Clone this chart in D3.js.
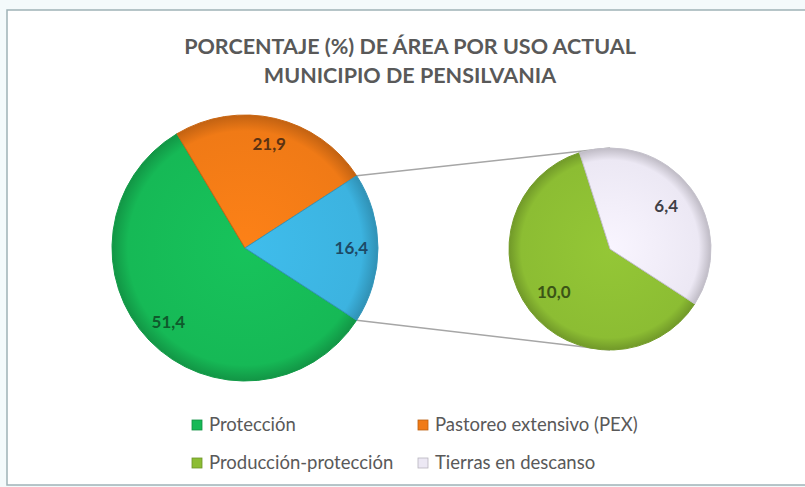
<!DOCTYPE html>
<html>
<head>
<meta charset="utf-8">
<script src="https://cdn.jsdelivr.net/npm/d3@7"></script>
<style>
    body { margin: 0; background: #f4fafb; }
    svg { display: block; }
    text { font-family: Lato, "Open Sans", sans-serif; }
</style>
</head>
<body>
<script>
// datos
var titleLines = ['PORCENTAJE (%) DE ÁREA POR USO ACTUAL', 'MUNICIPIO DE PENSILVANIA'];
var mainCats = ['Protección', 'Pastoreo extensivo (PEX)', 'Otros'];
var mainValues = [51.4, 21.9, 16.4];
var subCats = ['Producción-protección', 'Tierras en descanso'];
var subValues = [10.0, 6.4];
var legendNames = ['Protección', 'Pastoreo extensivo (PEX)', 'Producción-protección', 'Tierras en descanso'];

// colores
var colors = {
    'Protección': '#16b956',
    'Pastoreo extensivo (PEX)': '#f07a16',
    'Otros': '#3cb3e0',
    'Producción-protección': '#8cbd33',
    'Tierras en descanso': '#ece8f4'
};
var labelColors = {
    'Protección': '#0f5a2c',
    'Pastoreo extensivo (PEX)': '#5b3212',
    'Otros': '#1d4a66',
    'Producción-protección': '#3b5416',
    'Tierras en descanso': '#3f3f46'
};

var width = 805, height = 487;
var mainC = [245, 248], mainR = 133;
var subC = [610, 249], subR = 101;

window.onload = function () {
    draw();
};

function fmt(v) {
    return v.toFixed(1).replace('.', ',');
}

function draw() {
    var svg = d3.select('body').append('svg')
        .attr('width', width)
        .attr('height', height);

    var defs = svg.append('defs');
    Object.keys(colors).forEach(function (k, i) {
        var c = d3.color(colors[k]);
        var g = defs.append('radialGradient')
            .attr('id', 'grad' + i)
            .attr('gradientUnits', 'userSpaceOnUse')
            .attr('cx', 0).attr('cy', 0)
            .attr('r', k === 'Producción-protección' || k === 'Tierras en descanso' ? subR : mainR);
        g.append('stop').attr('offset', '0%').attr('stop-color', c.brighter(0.15));
        g.append('stop').attr('offset', '88%').attr('stop-color', c);
        g.append('stop').attr('offset', '100%').attr('stop-color', c.darker(0.6));
        colors[k + '_grad'] = 'url(#grad' + i + ')';
    });

    // marco
    svg.append('rect')
        .attr('x', 7).attr('y', 10)
        .attr('width', width + 10).attr('height', 475)
        .attr('fill', '#ffffff')
        .attr('stroke', '#9fb2b7')
        .attr('stroke-width', 1.5);

    // titulo
    svg.selectAll('.title')
        .data(titleLines)
        .enter().append('text')
        .attr('class', 'title')
        .attr('x', 410)
        .attr('y', function (d, i) { return 54 + i * 29; })
        .attr('text-anchor', 'middle')
        .style('font-size', '21.5px')
        .style('font-weight', 'bold')
        .style('fill', '#595959')
        .text(function (d) { return d; });

    // pastel principal: "Otros" centrado a la derecha
    var total = d3.sum(mainValues);
    var otherFrac = mainValues[2] / total;
    var start = Math.PI / 2 + otherFrac * Math.PI;

    var pie = d3.pie().sort(null)
        .startAngle(start).endAngle(start + 2 * Math.PI)
        .value(function (d) { return d.v; });

    var mainData = pie(mainCats.map(function (c, i) { return { name: c, v: mainValues[i] }; }));
    var other = mainData[2];

    // pastel secundario empieza donde termina "Otros"
    var subPie = d3.pie().sort(null)
        .startAngle(other.endAngle).endAngle(other.endAngle + 2 * Math.PI)
        .value(function (d) { return d.v; });
    var subData = subPie(subCats.map(function (c, i) { return { name: c, v: subValues[i] }; }));

    // lineas de conexion
    var p1 = [mainC[0] + mainR * Math.sin(other.startAngle), mainC[1] - mainR * Math.cos(other.startAngle)];
    var p2 = [mainC[0] + mainR * Math.sin(other.endAngle), mainC[1] - mainR * Math.cos(other.endAngle)];
    svg.append('line')
        .attr('x1', p1[0]).attr('y1', p1[1])
        .attr('x2', subC[0]).attr('y2', subC[1] - subR)
        .attr('stroke', '#a6a6a6').attr('stroke-width', 1.5);
    svg.append('line')
        .attr('x1', p2[0]).attr('y1', p2[1])
        .attr('x2', subC[0]).attr('y2', subC[1] + subR)
        .attr('stroke', '#a6a6a6').attr('stroke-width', 1.5);

    drawPie(svg, mainData, mainC, mainR, 0.8);
    drawPie(svg, subData, subC, subR, 0.7);

    // leyenda (dos columnas)
    var legendPos = [[192, 425], [418, 425], [192, 463], [418, 463]];
    var lg = svg.selectAll('.legend')
        .data(legendNames)
        .enter().append('g')
        .attr('class', 'legend')
        .attr('transform', function (d, i) { return 'translate(' + legendPos[i] + ')'; });

    lg.append('rect')
        .attr('x', 0).attr('y', -5)
        .attr('width', 10).attr('height', 10)
        .attr('fill', function (d) { return colors[d]; })
        .attr('stroke', function (d) { return d3.color(colors[d]).darker(0.7); })
        .attr('stroke-width', 0.8);

    lg.append('text')
        .attr('x', 17)
        .attr('y', 0)
        .attr('dy', '0.35em')
        .style('font-size', '18.5px')
        .style('fill', '#595959')
        .text(function (d) { return d; });
}

function drawPie(svg, data, c, r, labelK) {
    var arc = d3.arc().innerRadius(0).outerRadius(r);
    var labelArc = d3.arc().innerRadius(r * labelK).outerRadius(r * labelK);

    var g = svg.append('g')
        .attr('transform', 'translate(' + c + ')');

    g.selectAll('path')
        .data(data)
        .enter().append('path')
        .attr('d', arc)
        .attr('fill', function (d) { return colors[d.data.name + '_grad']; })
        .attr('stroke', function (d) { return d3.color(colors[d.data.name]).darker(0.5); })
        .attr('stroke-width', 1);

    g.selectAll('.lbl')
        .data(data)
        .enter().append('text')
        .attr('class', 'lbl')
        .attr('transform', function (d) { return 'translate(' + labelArc.centroid(d) + ')'; })
        .attr('text-anchor', 'middle')
        .attr('dy', '0.35em')
        .style('font-size', '17px')
        .style('font-weight', 'bold')
        .style('fill', function (d) { return labelColors[d.data.name]; })
        .text(function (d) { return fmt(d.data.v); });
}
</script>
</body>
</html>
